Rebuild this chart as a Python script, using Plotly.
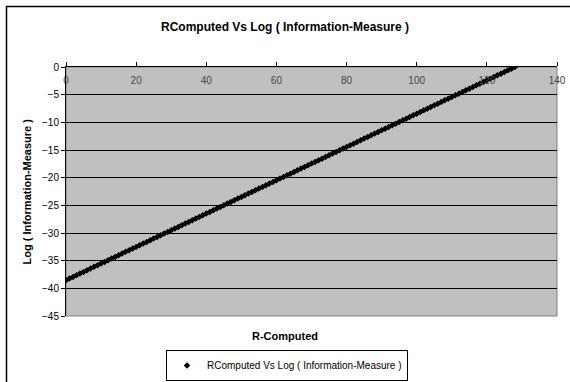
import plotly.graph_objects as go

r_computed = list(range(0, 129))
log_info = [
    -38.53, -38.23, -37.93, -37.63, -37.33, -37.03, -36.73, -36.42, -36.12, -35.82,
    -35.52, -35.22, -34.92, -34.62, -34.32, -34.02, -33.72, -33.41, -33.11, -32.81,
    -32.51, -32.21, -31.91, -31.61, -31.31, -31.01, -30.71, -30.40, -30.10, -29.80,
    -29.50, -29.20, -28.90, -28.60, -28.30, -28.00, -27.69, -27.39, -27.09, -26.79,
    -26.49, -26.19, -25.89, -25.59, -25.29, -24.99, -24.68, -24.38, -24.08, -23.78,
    -23.48, -23.18, -22.88, -22.58, -22.28, -21.98, -21.67, -21.37, -21.07, -20.77,
    -20.47, -20.17, -19.87, -19.57, -19.27, -18.96, -18.66, -18.36, -18.06, -17.76,
    -17.46, -17.16, -16.86, -16.56, -16.26, -15.95, -15.65, -15.35, -15.05, -14.75,
    -14.45, -14.15, -13.85, -13.55, -13.25, -12.94, -12.64, -12.34, -12.04, -11.74,
    -11.44, -11.14, -10.84, -10.54, -10.24, -9.93, -9.63, -9.33, -9.03, -8.73,
    -8.43, -8.13, -7.83, -7.53, -7.22, -6.92, -6.62, -6.32, -6.02, -5.72,
    -5.42, -5.12, -4.82, -4.52, -4.21, -3.91, -3.61, -3.31, -3.01, -2.71,
    -2.41, -2.11, -1.81, -1.51, -1.20, -0.90, -0.60, -0.30, 0.00,
]
series_name = "RComputed Vs Log ( Information-Measure )"
x_ticks = [0, 20, 40, 60, 80, 100, 120, 140]
y_ticks = [0, -5, -10, -15, -20, -25, -30, -35, -40, -45]

FONT = "Liberation Sans, Arial, sans-serif"

fig = go.Figure()
fig.add_trace(go.Scatter(
    x=r_computed, y=log_info, mode="lines+markers",
    line=dict(color="black", width=1),
    marker=dict(symbol="diamond", size=5, color="black"),
    showlegend=False, name=series_name,
))
fig.add_trace(go.Scatter(
    x=[None], y=[None], mode="markers", name=series_name,
    marker=dict(symbol="diamond", size=5, color="black"),
    showlegend=True,
))

W, H = 570, 382
L, R, T, B = 66, 13, 67, 66
pw, ph = W - L - R, H - T - B

def px_x(p):
    return (p - L) / pw

def px_y(p):
    return (H - B - p) / ph

fig.update_layout(
    width=W, height=H,
    margin=dict(l=L, r=R, t=T, b=B, pad=0, autoexpand=False),
    paper_bgcolor="white",
    plot_bgcolor="#C0C0C0",
    font=dict(family=FONT, size=10, color="black"),
    title=dict(text="<b>RComputed Vs Log ( Information-Measure )</b>",
               x=0.5, xanchor="center", y=1 - 27 / H, yanchor="middle",
               font=dict(family=FONT, size=12, color="black")),
    xaxis=dict(
        range=[0, 140], tickvals=x_ticks, side="top",
        ticks="outside", ticklen=4, tickcolor="black",
        ticklabelposition="inside", ticklabeloverflow="allow",
        ticklabelstandoff=9,
        showgrid=False, zeroline=False,
        showline=True, linecolor="black", linewidth=1,
        tickfont=dict(size=10),
    ),
    yaxis=dict(
        range=[-45, 0], tickvals=y_ticks,
        ticks="outside", ticklen=4, tickcolor="black",
        showgrid=True, gridcolor="black", gridwidth=1,
        zeroline=False,
        showline=True, linecolor="black", linewidth=1,
        tickfont=dict(size=10),
    ),
    legend=dict(
        x=px_x(287), y=px_y(381), xanchor="center", yanchor="bottom",
        bordercolor="black", borderwidth=1, bgcolor="white",
        font=dict(size=10), itemwidth=30,
    ),
    annotations=[
        dict(text="<b>R-Computed</b>", xref="paper", yref="paper",
             x=px_x(285), y=px_y(336), xanchor="center", yanchor="middle",
             showarrow=False, font=dict(size=11)),
        dict(text="<b>Log ( Information-Measure )</b>", xref="paper", yref="paper",
             x=px_x(26), y=0.5, xanchor="center", yanchor="middle",
             textangle=-90, showarrow=False, font=dict(size=11)),
    ],
    shapes=[
        dict(type="rect", xref="paper", yref="paper", x0=0, x1=1, y0=0, y1=1,
             line=dict(color="#808080", width=1), layer="below"),
        dict(type="rect", xref="paper", yref="paper",
             x0=px_x(6.5), x1=px_x(600), y0=px_y(420), y1=px_y(6.5),
             line=dict(color="black", width=1.5), fillcolor="rgba(0,0,0,0)"),
    ],
)

fig.write_html("out.html")
